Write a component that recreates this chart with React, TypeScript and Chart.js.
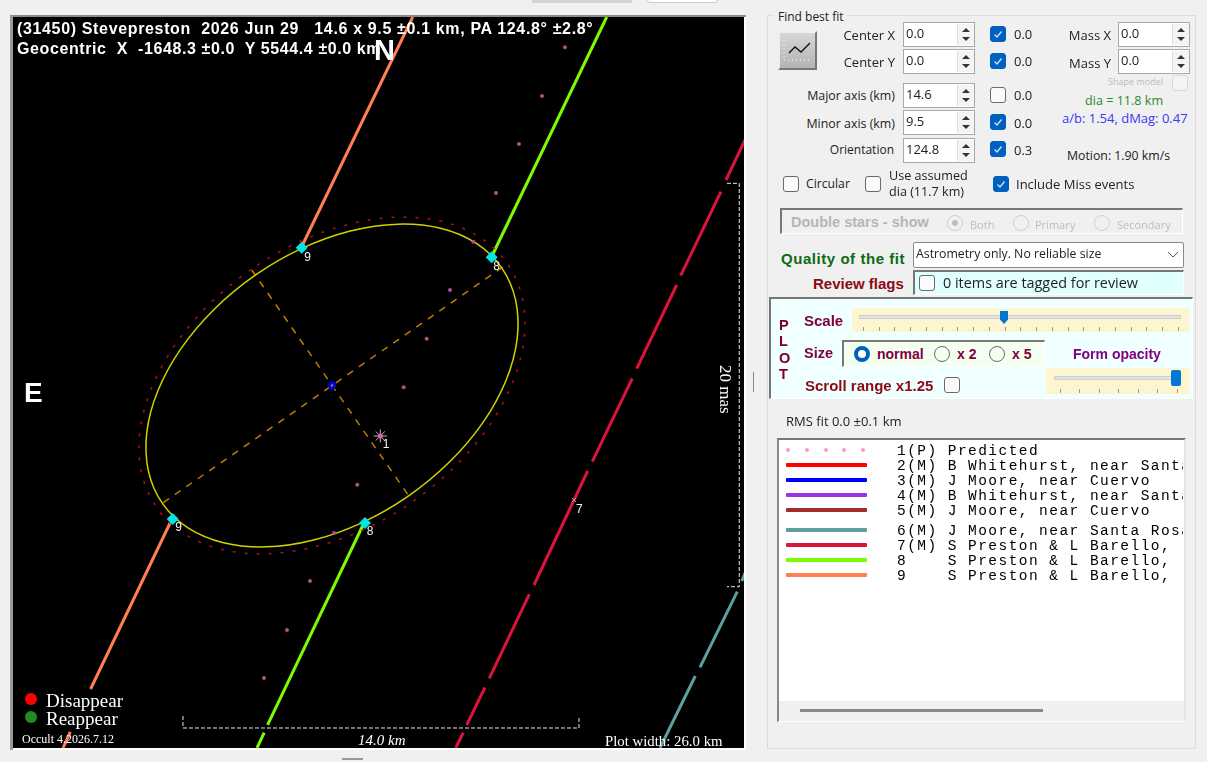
import React, { useEffect, useRef } from 'react';
import { Chart, registerables } from 'chart.js';

Chart.register(...registerables);

// everything below is in km from the fitted centre
const predictedX = [8.236, 7.423, 6.61, 5.797, 4.995, 4.171, 3.347, 2.534, 1.707, 0.894, 0.071, -0.778, -1.591, -2.404];
const predictedY = [11.955, 10.233, 8.537, 6.804, 5.083, 3.376, 1.654, -0.064, -1.785, -3.507, -5.214, -6.911, -8.642, -10.339];

// the outlines go once round plus one lead-in and one lead-out point, those two stay hidden
const fitX = [-1.067, -2.711, -4.169, -5.345, -6.155, -6.546, -6.491, -5.994, -5.089, -3.836, -2.321, -0.649, 1.067, 2.711, 4.169, 5.345, 6.155, 6.546, 6.491, 5.994, 5.089, 3.836, 2.321, 0.649, -1.067, -2.711, -4.169];
const fitY = [4.845, 3.9, 2.689, 1.295, -0.188, -1.658, -3.015, -4.166, -5.033, -5.558, -5.704, -5.461, -4.845, -3.9, -2.689, -1.295, 0.188, 1.658, 3.015, 4.166, 5.033, 5.558, 5.704, 5.461, 4.845, 3.9, 2.689];

const limbX = [-1.152, -2.854, -4.36, -5.571, -6.402, -6.796, -6.726, -6.199, -5.25, -3.942, -2.366, -0.629, 1.152, 2.854, 4.36, 5.571, 6.402, 6.796, 6.726, 6.199, 5.25, 3.942, 2.366, 0.629, -1.152, -2.854, -4.36];
const limbY = [5.081, 4.106, 2.851, 1.401, -0.144, -1.679, -3.1, -4.309, -5.224, -5.785, -5.95, -5.709, -5.081, -4.106, -2.851, -1.401, 0.144, 1.679, 3.1, 4.309, 5.224, 5.785, 5.95, 5.709, 5.081, 4.106, 2.851];

const majorAxisX = [-5.963, 6.175];
const majorAxisY = [-4.143, 4.284];
const minorAxisX = [-2.838, 2.817];
const minorAxisY = [4.083, -4.047];

const chord9X = [2.853, -1.06, null, -5.656, -8.533, null, -9.251, -9.509];
const chord9Y = [13.026, 4.931, null, -4.719, -10.728, null, -12.248, -12.814];
const chord8X = [9.71, 5.638, null, 1.131, -2.276, null, -2.397, -2.651];
const chord8Y = [13.026, 4.542, null, -4.86, -12.0, null, -12.273, -12.814];
const chord7X = [14.6, 13.927, null, 13.75, 12.326, null, 12.184, 10.771, null, 10.615, 9.201, null, 9.038, 7.14, null, 6.974, 5.56, null, 5.408, 4.761, null, 4.641, 4.373];
const chord7Y = [8.68, 7.264, null, 6.851, 3.881, null, 3.552, 0.594, null, 0.255, -2.694, null, -3.022, -7.052, null, -7.381, -10.35, null, -10.668, -12.001, null, -12.273, -12.814];
const chord6X = [14.6, 14.49, null, 14.327, 13.008, null, 12.842, 11.594];
const chord6Y = [-6.62, -6.91, null, -7.289, -9.961, null, -10.269, -12.814];

const eventX = [-1.071, 5.645, -5.631, 1.166];
const eventY = [4.871, 4.532, -4.719, -4.86];

const starX = [1.707];
const starY = [-1.785];
const missX = [8.554];
const missY = [-4.047];

const labelText = ['9', '8', '9', '8', '1', '7'];
const labelX = [-0.859, 5.822, -5.419, 1.343, 1.909, 8.742];
const labelY = [4.532, 4.2, -5.027, -5.168, -2.103, -4.4];

const scaleBarX = [-5.267, -5.267, 8.731, 8.731];
const scaleBarY = [-11.682, -12.107, -12.107, -11.682];
const masBarX = [13.962, 14.397, 14.397, 13.962];
const masBarY = [7.147, 7.147, -7.112, -7.112];

const listRows = [
  { no: '1(P)', name: 'Predicted', color: '', y: 451 },
  { no: '2(M)', name: 'B Whitehurst, near Santa Rosa', color: '#ff0000', y: 466 },
  { no: '3(M)', name: 'J Moore, near Cuervo', color: '#0000ff', y: 481 },
  { no: '4(M)', name: 'B Whitehurst, near Santa Rosa', color: '#9932e6', y: 496 },
  { no: '5(M)', name: 'J Moore, near Cuervo', color: '#a52a2a', y: 511 },
  { no: '6(M)', name: 'J Moore, near Santa Rosa', color: '#5f9ea0', y: 531 },
  { no: '7(M)', name: 'S Preston & L Barello,', color: '#dc143c', y: 546 },
  { no: '8   ', name: 'S Preston & L Barello,', color: '#7cfc00', y: 561 },
  { no: '9   ', name: 'S Preston & L Barello,', color: '#ff7f50', y: 576 },
];
const predictedDots = [7, 26, 45, 63, 82];

const zip = (xs: (number | null)[], ys: (number | null)[]) => xs.map((x, i) => ({ x, y: ys[i] }));

const pathSet = (xs: (number | null)[], ys: (number | null)[], color: string, width: number, extra: object = {}) => ({
  data: zip(xs, ys),
  showLine: true,
  borderColor: color,
  borderWidth: width,
  pointRadius: 0,
  ...extra,
});

// hides the lead-in and lead-out of a closed outline so the spline has no kink where it joins
const hideEnds = (last: number) => ({
  borderColor: (c: any) => (c.p0DataIndex === 0 || c.p1DataIndex === last ? 'transparent' : undefined),
});

const labelPlugin = {
  id: 'pointLabels',
  afterDatasetsDraw(chart: any) {
    const { ctx, scales } = chart;
    ctx.save();
    ctx.font = '12px "Liberation Sans"';
    ctx.fillStyle = '#f4f4f4';
    ctx.textAlign = 'center';
    ctx.textBaseline = 'middle';
    labelText.forEach((t, i) => {
      ctx.fillText(t, scales.x.getPixelForValue(labelX[i]), scales.y.getPixelForValue(labelY[i]));
    });
    ctx.restore();
  },
};

const ui = '"Open Sans"';
const bold = '"Liberation Sans"';

const Txt = ({ x, y, c = '#222', f = ui, s = 12.4, w = 400, r, ls, children }: any) => (
  <div
    style={{
      position: 'absolute',
      left: r === undefined ? x : undefined,
      right: r === undefined ? undefined : 1207 - r,
      top: y,
      transform: 'translateY(-50%)',
      color: c,
      fontFamily: f,
      fontSize: s,
      fontWeight: w,
      letterSpacing: ls,
      whiteSpace: 'pre',
      lineHeight: 1,
    }}
  >
    {children}
  </div>
);

const Box = ({ x, y, w, h, style }: any) => (
  <div style={{ position: 'absolute', left: x, top: y, width: w, height: h, boxSizing: 'border-box', ...style }} />
);

const Check = ({ x, y, on = false, faint = false }: any) => (
  <div
    style={{
      position: 'absolute',
      left: x,
      top: y,
      width: 16,
      height: 16,
      boxSizing: 'border-box',
      borderRadius: 3,
      background: on ? '#0060c0' : faint ? '#f4f4f4' : '#fbfbfb',
      border: on ? '1px solid #0060c0' : faint ? '1px solid #d8d8d8' : '1px solid #6a6a6a',
    }}
  >
    {on && (
      <svg width="14" height="14" style={{ display: 'block' }}>
        <path d="M3.5 7.5 L6 10 L10.5 4.5" fill="none" stroke="#cfe4fa" strokeWidth="1.3" />
      </svg>
    )}
  </div>
);

const Radio = ({ x, y, on = false, off = false }: any) => (
  <div
    style={{
      position: 'absolute',
      left: x,
      top: y,
      width: 16,
      height: 16,
      boxSizing: 'border-box',
      borderRadius: 8,
      background: on ? '#fff' : 'transparent',
      border: on ? '4px solid #0060c0' : off ? '1px solid #cfcfcf' : '1px solid #6a6a6a',
    }}
  />
);

const Spin = ({ x, y, v }: any) => (
  <>
    <Box x={x} y={y} w={72} h={25} style={{ background: '#fff', border: '1px solid #a8a8a8' }} />
    <Txt x={x + 3} y={y + 11} s={13}>{v}</Txt>
    <Box x={x + 54} y={y + 2} w={17} h={21} style={{ background: '#f4f4f4', borderLeft: '1px solid #ddd' }} />
    <Box x={x + 59} y={y + 6} w={0} h={0} style={{ borderLeft: '4px solid transparent', borderRight: '4px solid transparent', borderBottom: '4px solid #333' }} />
    <Box x={x + 59} y={y + 15} w={0} h={0} style={{ borderLeft: '4px solid transparent', borderRight: '4px solid transparent', borderTop: '4px solid #333' }} />
  </>
);

const Ticks = ({ xs, y, h }: any) =>
  xs.map((x: number) => <Box key={x} x={x} y={y} w={1} h={h} style={{ background: '#999' }} />);

const scaleTicks = [863, 879, 894, 910, 926, 942, 957, 973, 989, 1005, 1020, 1036, 1052, 1068, 1083, 1099, 1115, 1131, 1146, 1162, 1178];
const opacityTicks = [1060, 1079, 1099, 1118, 1138, 1157, 1177];

const sunken = { borderTop: '2px solid #777', borderLeft: '2px solid #777', borderRight: '1px solid #fff', borderBottom: '1px solid #fff' };

const App = () => {
  const canvasRef = useRef<HTMLCanvasElement>(null);

  useEffect(() => {
    const ctx = canvasRef.current!.getContext('2d')!;
    const chart = new Chart(ctx, {
      type: 'scatter',
      data: {
        datasets: [
          {
            data: zip(eventX, eventY),
            pointStyle: 'rectRot',
            pointRadius: 6,
            backgroundColor: '#00e6e6',
            borderWidth: 0,
          },
          {
            data: zip([0], [0]),
            pointRadius: 1.2,
            backgroundColor: '#c07c00',
            borderWidth: 0,
          },
          {
            data: zip([0], [0]),
            pointRadius: 4,
            backgroundColor: '#0000f0',
            borderWidth: 0,
          },
          {
            data: zip(starX, starY),
            pointRadius: 2.5,
            backgroundColor: '#e060a8',
            borderWidth: 0,
          },
          {
            data: zip(starX, starY),
            pointStyle: 'star',
            pointRadius: 6.5,
            borderColor: '#b8b8b8',
            borderWidth: 1,
          },
          {
            data: zip(predictedX, predictedY),
            pointRadius: 2,
            backgroundColor: '#b04e90',
            borderWidth: 0,
          },
          {
            data: zip(missX, missY),
            pointStyle: 'crossRot',
            pointRadius: 3,
            borderColor: '#a0a0a0',
            borderWidth: 1,
          },
          pathSet(fitX, fitY, '#d2d200', 1.5, { tension: 0.33, segment: hideEnds(fitX.length - 1) }),
          pathSet(limbX, limbY, '#b01010', 1.5, { tension: 0.33, borderDash: [3, 9], segment: hideEnds(limbX.length - 1) }),
          pathSet(majorAxisX, majorAxisY, '#c07c00', 1.5, { borderDash: [7, 7] }),
          pathSet(minorAxisX, minorAxisY, '#c07c00', 1.5, { borderDash: [7, 7] }),
          pathSet(chord9X, chord9Y, '#ff7f50', 3),
          pathSet(chord8X, chord8Y, '#7cfc00', 3),
          pathSet(chord7X, chord7Y, '#dc143c', 3),
          pathSet(chord6X, chord6Y, '#5f9ea0', 3),
          pathSet(scaleBarX, scaleBarY, '#e8e8e8', 1, { borderDash: [4, 2] }),
          pathSet(masBarX, masBarY, '#e8e8e8', 1, { borderDash: [4, 2] }),
        ],
      },
      options: {
        responsive: false,
        animation: false,
        layout: { padding: 0, autoPadding: false },
        plugins: { legend: { display: false }, tooltip: { enabled: false } },
        scales: {
          x: { type: 'linear', display: false, min: -11.276, max: 14.564 },
          y: { type: 'linear', display: false, min: -12.814, max: 13.026 },
        },
      },
      plugins: [labelPlugin],
    } as any);

    return () => chart.destroy();
  }, []);

  return (
    <div style={{ position: 'fixed', left: 0, top: 0, width: 1207, height: 762, background: '#f0f0f0', overflow: 'hidden' }}>
      {/* plot frame */}
      <Box x={532} y={0} w={100} h={3} style={{ background: '#d4d4d4' }} />
      <Box x={647} y={-4} w={71} h={7} style={{ background: '#fff', border: '1px solid #ccc', borderRadius: 3 }} />
      <Box x={10} y={15} w={736} h={735} style={{ background: '#fff', borderTop: '2px solid #8a8a8a', borderLeft: '3px solid #9a9a9a' }} />
      <canvas ref={canvasRef} width={731} height={731} style={{ position: 'absolute', left: 13, top: 17, background: '#000' }} />

      <Txt x={17} y={29} c="#fff" f={bold} s={16} w={700} ls={0.65}>{'(31450) Stevepreston  2026 Jun 29   14.6 x 9.5 ±0.1 km, PA 124.8° ±2.8°'}</Txt>
      <Txt x={17} y={49} c="#fff" f={bold} s={16} w={700} ls={0.6}>{'Geocentric  X  -1648.3 ±0.0  Y 5544.4 ±0.0 km'}</Txt>
      <Txt x={374} y={50} c="#fff" f={bold} s={29} w={700}>N</Txt>
      <Txt x={24} y={393} c="#fff" f={bold} s={28} w={700}>E</Txt>

      <div style={{ position: 'absolute', left: 25, top: 693, width: 12, height: 12, borderRadius: 6, background: '#ff0000' }} />
      <div style={{ position: 'absolute', left: 25, top: 711, width: 12, height: 12, borderRadius: 6, background: '#228b22' }} />
      <Txt x={46} y={700} c="#fff" f='"Liberation Serif"' s={19}>Disappear</Txt>
      <Txt x={46} y={718} c="#fff" f='"Liberation Serif"' s={19}>Reappear</Txt>
      <Txt x={22} y={739} c="#fff" f='"Liberation Serif"' s={12}>Occult 4.2026.7.12</Txt>
      <div style={{ position: 'absolute', left: 358, top: 733, color: '#fff', font: 'italic 15px "Liberation Serif"', lineHeight: 1 }}>14.0 km</div>
      <Txt x={605} y={741} c="#fff" f='"Liberation Serif"' s={14.8}>Plot width: 26.0 km</Txt>
      <div style={{ position: 'absolute', left: 717, top: 365, color: '#fff', font: '17px "Liberation Serif"', writingMode: 'vertical-rl', lineHeight: 1 }}>20 mas</div>

      <Box x={342} y={758} w={21} h={2} style={{ background: '#999' }} />
      <Box x={753} y={372} w={1} h={20} style={{ background: '#888' }} />

      {/* fit panel */}
      <Box x={767} y={15} w={429} h={734} style={{ border: '1px solid #dcdcdc' }} />
      <Box x={774} y={10} w={72} h={14} style={{ background: '#f0f0f0' }} />
      <Txt x={778} y={17} s={12}>Find best fit</Txt>
      <Box x={778} y={31} w={39} h={39} style={{ background: 'linear-gradient(#d6d6d6,#b4b4b4)', borderTop: '2px solid #eee', borderLeft: '2px solid #eee', borderRight: '2px solid #777', borderBottom: '2px solid #777' }} />
      <svg width="39" height="39" style={{ position: 'absolute', left: 778, top: 31 }}>
        <path d="M11 22 L17 16 L23 21 L32 12" fill="none" stroke="#111" strokeWidth="1.4" />
        <path d="M6 9 V29 H33" fill="none" stroke="#fff" strokeWidth="1" strokeDasharray="1 3" />
      </svg>

      <Txt r={895} y={35} s={13}>Center X</Txt>
      <Txt r={895} y={62} s={13}>Center Y</Txt>
      <Txt r={895} y={96}>Major axis (km)</Txt>
      <Txt r={895} y={124}>Minor axis (km)</Txt>
      <Txt r={894} y={150} s={12}>Orientation</Txt>
      <Spin x={903} y={22} v="0.0" />
      <Spin x={903} y={49} v="0.0" />
      <Spin x={903} y={83} v="14.6" />
      <Spin x={903} y={110} v="9.5" />
      <Spin x={903} y={138} v="124.8" />
      <Check x={990} y={26} on />
      <Check x={990} y={53} on />
      <Check x={990} y={87} />
      <Check x={990} y={114} on />
      <Check x={990} y={141} on />
      <Txt x={1014} y={34} s={13}>0.0</Txt>
      <Txt x={1014} y={61} s={13}>0.0</Txt>
      <Txt x={1014} y={95} s={13}>0.0</Txt>
      <Txt x={1014} y={123} s={13}>0.0</Txt>
      <Txt x={1014} y={150} s={13}>0.3</Txt>
      <Txt r={1111} y={35} s={13}>Mass X</Txt>
      <Txt r={1111} y={63} s={13}>Mass Y</Txt>
      <Spin x={1118} y={22} v="0.0" />
      <Spin x={1118} y={49} v="0.0" />
      <Txt x={1108} y={81} c="#bdbdbd" s={9}>Shape model</Txt>
      <Check x={1172} y={75} faint />
      <Txt x={1085} y={101} c="#2a8a2a" s={12.6}>dia = 11.8 km</Txt>
      <Txt x={1062} y={118} c="#3a3af0" s={13}>a/b: 1.54, dMag: 0.47</Txt>
      <Txt x={1067} y={156} s={12.3}>Motion: 1.90 km/s</Txt>

      <Check x={783} y={176} />
      <Txt x={806} y={184} s={12.2}>Circular</Txt>
      <Check x={865} y={176} />
      <Txt x={889} y={176} s={12.6}>Use assumed</Txt>
      <Txt x={889} y={192} s={12.6}>dia (11.7 km)</Txt>
      <Check x={993} y={176} on />
      <Txt x={1016} y={184} s={13}>Include Miss events</Txt>

      <Box x={780} y={208} w={403} h={26} style={sunken} />
      <Txt x={791} y={222} c="#b6b6b6" f={bold} s={14.5} w={700}>Double stars - show</Txt>
      <Radio x={947} y={215} off />
      <Box x={952} y={220} w={6} h={6} style={{ background: '#bdbdbd', borderRadius: 3 }} />
      <Txt x={970} y={224} c="#bdbdbd" s={11}>Both</Txt>
      <Radio x={1013} y={215} off />
      <Txt x={1035} y={224} c="#bdbdbd" s={11}>Primary</Txt>
      <Radio x={1094} y={215} off />
      <Txt x={1117} y={224} c="#bdbdbd" s={11}>Secondary</Txt>

      <Txt x={781} y={258} c="#0b6b12" f={bold} s={15} w={700} ls={0.55}>Quality of the fit</Txt>
      <Box x={913} y={242} w={271} h={26} style={{ background: '#fff', border: '1px solid #8a8a8a', borderRadius: 2 }} />
      <Txt x={916} y={254} s={12.3}>Astrometry only. No reliable size</Txt>
      <svg width="12" height="8" style={{ position: 'absolute', left: 1167, top: 251 }}>
        <path d="M1 1 L6 6 L11 1" fill="none" stroke="#555" strokeWidth="1" />
      </svg>
      <Txt x={813} y={283} c="#8b0a14" f={bold} s={15} w={700}>Review flags</Txt>
      <Box x={913} y={270} w={271} h={25} style={{ background: '#e0ffff', ...sunken }} />
      <Check x={919} y={275} />
      <Txt x={943} y={283} s={14.4}>0 items are tagged for review</Txt>

      <Box x={769} y={297} w={424} h={102} style={{ background: '#f0ffff', ...sunken }} />
      {['P', 'L', 'O', 'T'].map((l, i) => (
        <Txt key={l} x={779} y={325 + i * 16.3} c="#800020" f={bold} s={14.5} w={700}>{l}</Txt>
      ))}
      <Txt x={804} y={320} c="#800040" f={bold} s={15} w={700}>Scale</Txt>
      <Box x={852} y={308} w={337} h={24} style={{ background: '#fdf5d0' }} />
      <Box x={859} y={315} w={322} h={4} style={{ background: '#e2e2e2', border: '1px solid #d0d0d0' }} />
      <Box x={1000} y={311} w={8} h={13} style={{ background: '#0078d4', clipPath: 'polygon(0 0,100% 0,100% 65%,50% 100%,0 65%)' }} />
      <Ticks xs={scaleTicks} y={327} h={4} />
      <Txt x={804} y={353} c="#800040" f={bold} s={14.5} w={700}>Size</Txt>
      <Box x={842} y={340} w={203} h={27} style={{ background: '#f5fff0', ...sunken }} />
      <Radio x={854} y={346} on />
      <Txt x={877} y={354} c="#800040" f={bold} s={14} w={700}>normal</Txt>
      <Radio x={934} y={346} />
      <Txt x={957} y={354} c="#800040" f={bold} s={14} w={700}>x 2</Txt>
      <Radio x={989} y={346} />
      <Txt x={1012} y={354} c="#800040" f={bold} s={14} w={700}>x 5</Txt>
      <Txt x={1073} y={354} c="#800080" f={bold} s={14} w={700}>Form opacity</Txt>
      <Box x={1046} y={368} w={144} h={26} style={{ background: '#fdf5d0' }} />
      <Box x={1054} y={376} w={127} h={4} style={{ background: '#e2e2e2', border: '1px solid #d0d0d0' }} />
      <Box x={1171} y={370} w={10} h={16} style={{ background: '#0078d4', borderRadius: 2 }} />
      <Ticks xs={opacityTicks} y={389} h={4} />
      <Txt x={805} y={385} c="#8b0a14" f={bold} s={15} w={700}>Scroll range x1.25</Txt>
      <Check x={944} y={377} />

      <Txt x={786} y={421} s={13}>RMS fit 0.0 ±0.1 km</Txt>

      {/* observer list */}
      <Box x={777} y={438} w={409} h={284} style={{ background: '#fff', borderTop: '2px solid #777', borderLeft: '2px solid #888', borderRight: '2px solid #e4e4e4', borderBottom: '1px solid #fff' }} />
      <Box x={779} y={701} w={405} h={20} style={{ background: '#f0f0f0' }} />
      <div style={{ position: 'absolute', left: 779, top: 440, width: 404, height: 261, overflow: 'hidden' }}>
        {listRows.map((row) => (
          <React.Fragment key={row.no}>
            {row.color ? (
              <div style={{ position: 'absolute', left: 7, top: row.y - 443, width: 81, height: 4, background: row.color, borderRadius: 1 }} />
            ) : (
              predictedDots.map((d) => (
                <div key={d} style={{ position: 'absolute', left: d, top: row.y - 443, width: 4, height: 4, borderRadius: 2, background: '#ff9ac8' }} />
              ))
            )}
            <div style={{ position: 'absolute', left: 118, top: row.y - 448, font: '14.5px "Liberation Mono"', letterSpacing: 1.45, whiteSpace: 'pre', lineHeight: '16px', color: '#000' }}>
              {row.no + ' ' + row.name}
            </div>
          </React.Fragment>
        ))}
      </div>
      <Box x={800} y={709} w={243} h={3} style={{ background: '#888' }} />
    </div>
  );
};

export default App;
